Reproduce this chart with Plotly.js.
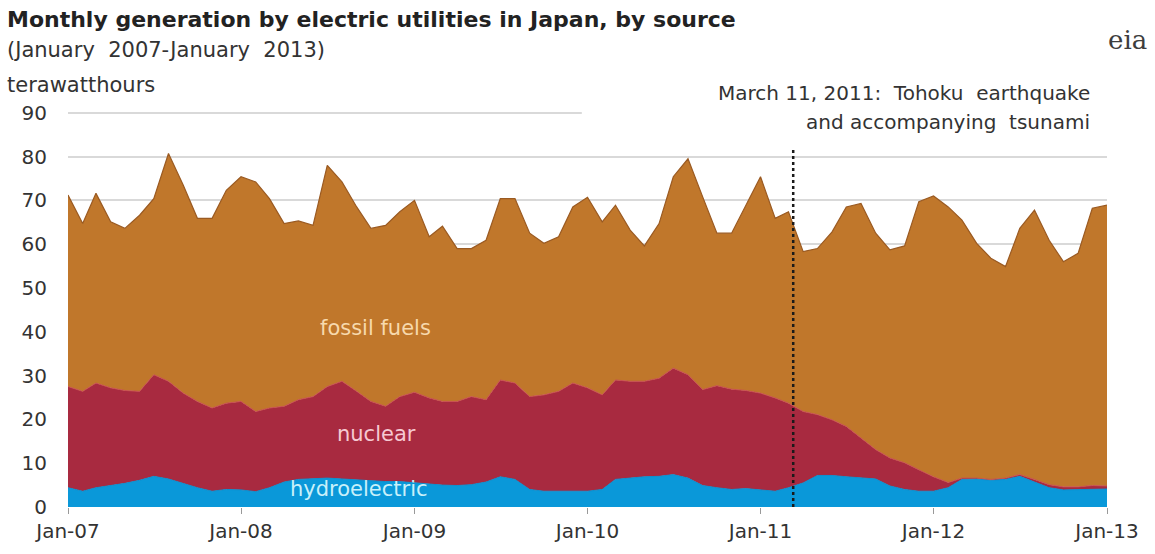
<!DOCTYPE html>
<html>
<head>
<meta charset="utf-8">
<script src="https://cdn.plot.ly/plotly-3.0.1.min.js"></script>
<style>html,body{margin:0;padding:0;background:#fff;}#chart{width:1155px;height:554px;}</style>
</head>
<body>
<div id="chart"></div>
<script>
const months = [
'2007-01','2007-02','2007-03','2007-04','2007-05','2007-06','2007-07','2007-08','2007-09','2007-10','2007-11','2007-12',
'2008-01','2008-02','2008-03','2008-04','2008-05','2008-06','2008-07','2008-08','2008-09','2008-10','2008-11','2008-12',
'2009-01','2009-02','2009-03','2009-04','2009-05','2009-06','2009-07','2009-08','2009-09','2009-10','2009-11','2009-12',
'2010-01','2010-02','2010-03','2010-04','2010-05','2010-06','2010-07','2010-08','2010-09','2010-10','2010-11','2010-12',
'2011-01','2011-02','2011-03','2011-04','2011-05','2011-06','2011-07','2011-08','2011-09','2011-10','2011-11','2011-12',
'2012-01','2012-02','2012-03','2012-04','2012-05','2012-06','2012-07','2012-08','2012-09','2012-10','2012-11','2012-12',
'2013-01'];

// terawatthours by source
const hydroelectric = [
4.4,3.6,4.4,4.9,5.4,6.1,7.0,6.4,5.4,4.4,3.6,4.0,
3.9,3.5,4.4,5.7,6.3,6.5,6.6,6.4,6.2,6.0,5.8,5.8,
5.5,5.2,5.0,4.9,5.1,5.7,6.9,6.3,4.0,3.6,3.6,3.6,
3.6,4.0,6.3,6.6,6.9,7.0,7.4,6.6,4.9,4.4,4.0,4.2,
3.9,3.6,4.4,5.5,7.2,7.2,6.9,6.6,6.4,4.8,4.0,3.6,
3.6,4.4,6.3,6.4,6.1,6.3,7.0,5.7,4.4,3.9,4.0,4.1,
4.1];
const nuclear = [
23.1,22.8,23.9,22.3,21.2,20.3,23.2,22.3,20.6,19.7,19.0,19.7,
20.2,18.3,18.2,17.3,18.2,18.7,20.9,22.3,20.2,18.1,17.2,19.4,
20.7,19.7,19.1,19.2,20.1,18.8,22.1,22.0,21.2,22.0,22.8,24.7,
23.6,21.6,22.7,22.1,21.8,22.4,24.3,23.6,21.9,23.3,22.9,22.4,
22.1,21.3,19.3,16.3,13.9,12.7,11.5,9.2,6.7,6.4,6.1,4.9,
3.3,1.2,0.3,0.2,0.2,0.3,0.4,0.6,0.7,0.7,0.6,0.8,
0.7];
const fossilFuels = [
43.7,38.3,43.3,37.9,37.0,40.2,40.2,52.0,47.5,41.8,43.3,48.6,
51.3,52.4,47.8,41.7,40.8,39.1,50.5,45.5,42.1,39.5,41.3,42.2,
43.8,36.8,40.0,34.9,33.8,36.4,41.4,42.1,37.3,34.6,35.3,40.2,
43.5,39.5,39.9,34.5,30.9,35.3,43.7,49.3,44.0,34.8,35.6,42.4,
49.4,41.0,43.7,36.5,37.9,42.9,50.1,53.5,49.4,47.5,49.5,61.2,
64.1,62.9,58.9,53.6,50.5,48.3,56.2,61.5,55.8,51.4,53.3,63.3,
64.1];

const earthquakeDate = '2011-03-11';
const yTicks = [0,10,20,30,40,50,60,70,80,90];

const traces = [
  {x: months, y: hydroelectric, name: 'hydroelectric', type: 'scatter', mode: 'lines',
   stackgroup: 'one', line: {color: '#0a8fcf', width: 1}, fillcolor: '#0a98d9', hoverinfo: 'x+y'},
  {x: months, y: nuclear, name: 'nuclear', type: 'scatter', mode: 'lines',
   stackgroup: 'one', line: {color: '#c8504f', width: 1}, fillcolor: '#a82a40', hoverinfo: 'x+y'},
  {x: months, y: fossilFuels, name: 'fossil fuels', type: 'scatter', mode: 'lines',
   stackgroup: 'one', line: {color: '#9a5a22', width: 1.2}, fillcolor: '#c0772b', hoverinfo: 'x+y'}
];

const font = 'DejaVu Sans, Liberation Sans, sans-serif';
const layout = {
  width: 1155, height: 554,
  margin: {l: 68, r: 48, t: 104, b: 47},
  paper_bgcolor: '#ffffff', plot_bgcolor: '#ffffff',
  showlegend: false,
  font: {family: font, color: '#333', size: 20},
  xaxis: {
    type: 'date', range: ['2007-01-01', '2013-01-01'],
    tick0: '2007-01-01', dtick: 'M12', tickformat: '%b-%y',
    showgrid: false, zeroline: false, showline: false,
    ticks: 'outside', ticklen: 6, tickcolor: '#999', tickwidth: 1,
    tickfont: {family: font, size: 20, color: '#333'}
  },
  yaxis: {
    range: [0, 92], tickvals: yTicks, showgrid: true, gridcolor: '#d9d9d9', gridwidth: 2,
    zeroline: false, showline: false, ticks: '', ticklabelstandoff: 20,
    tickfont: {family: font, size: 20, color: '#333'}
  },
  shapes: [
    {type: 'rect', xref: 'x', yref: 'y', x0: '2009-12-20', x1: '2013-01-05', y0: 89.2, y1: 90.8,
     fillcolor: '#ffffff', line: {width: 0}},
    {type: 'line', xref: 'x', yref: 'y', x0: earthquakeDate, x1: earthquakeDate, y0: 0, y1: 82,
     line: {color: '#1a1a1a', width: 2.5, dash: 'dot'}}
  ],
  annotations: [
    {xref: 'paper', yref: 'paper', x: -0.061, y: 1.21, xanchor: 'left', yanchor: 'middle', showarrow: false,
     text: '<b>Monthly generation by electric utilities in Japan, by source</b>', font: {family: font, size: 22, color: '#222'}},
    {xref: 'paper', yref: 'paper', x: -0.061, y: 1.134, xanchor: 'left', yanchor: 'middle', showarrow: false,
     text: '(January  2007-January  2013)', font: {family: font, size: 21, color: '#333'}},
    {xref: 'paper', yref: 'paper', x: -0.061, y: 1.047, xanchor: 'left', yanchor: 'middle', showarrow: false,
     text: 'terawatthours', font: {family: font, size: 21, color: '#333'}},
    {xref: 'paper', yref: 'paper', x: 0.9856, y: 1.027, xanchor: 'right', yanchor: 'middle', showarrow: false,
     text: 'March 11, 2011:  Tohoku  earthquake', font: {family: font, size: 20, color: '#333'}},
    {xref: 'paper', yref: 'paper', x: 0.9856, y: 0.955, xanchor: 'right', yanchor: 'middle', showarrow: false,
     text: 'and accompanying  tsunami', font: {family: font, size: 20, color: '#333'}},
    {xref: 'paper', yref: 'paper', x: 1.04, y: 1.16, xanchor: 'right', yanchor: 'middle', showarrow: false,
     text: 'eia', font: {family: 'DejaVu Serif, serif', size: 26, color: '#3d3d3d'}},
    {xref: 'paper', yref: 'paper', x: 0.2955, y: 0.444, xanchor: 'center', yanchor: 'middle', showarrow: false,
     text: 'fossil fuels', font: {family: font, size: 21, color: '#f7d9ad'}},
    {xref: 'paper', yref: 'paper', x: 0.297, y: 0.181, xanchor: 'center', yanchor: 'middle', showarrow: false,
     text: 'nuclear', font: {family: font, size: 21, color: '#f6c9d2'}},
    {xref: 'paper', yref: 'paper', x: 0.28, y: 0.045, xanchor: 'center', yanchor: 'middle', showarrow: false,
     text: 'hydroelectric', font: {family: font, size: 21, color: '#c8f0fa'}}
  ]
};

Plotly.newPlot('chart', traces, layout, {displayModeBar: false, staticPlot: true});
</script>
</body>
</html>
